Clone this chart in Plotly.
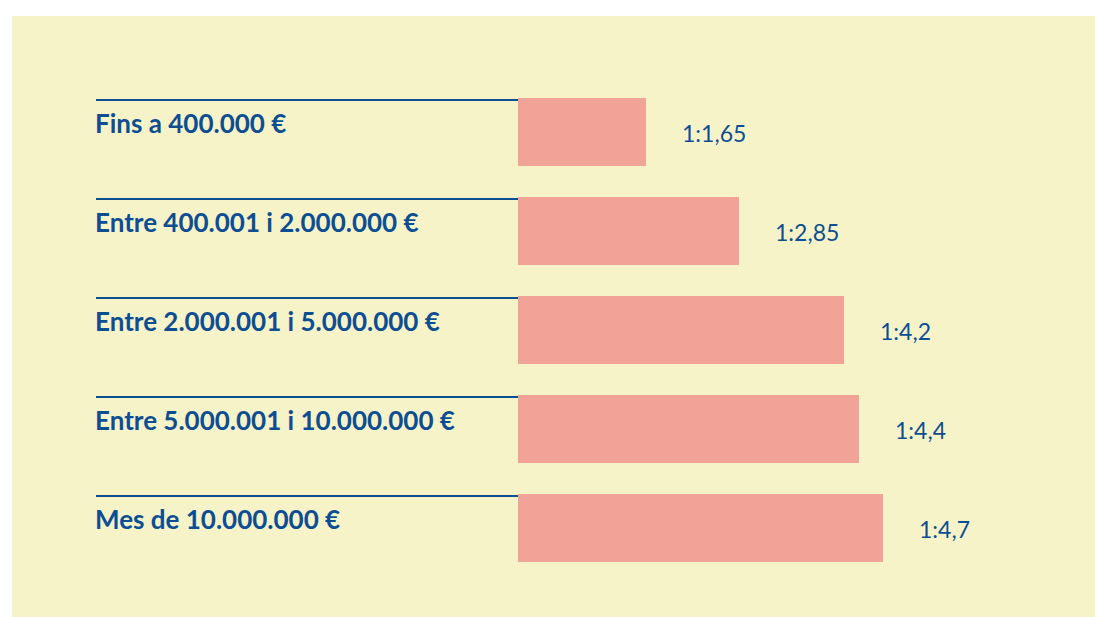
import plotly.graph_objects as go

# Turnover bands and their ratio values
categories = [
    "Fins a 400.000 €",
    "Entre 400.001 i 2.000.000 €",
    "Entre 2.000.001 i 5.000.000 €",
    "Entre 5.000.001 i 10.000.000 €",
    "Mes de 10.000.000 €",
]
ratios = [1.65, 2.85, 4.2, 4.4, 4.7]
ratio_labels = ["1:1,65", "1:2,85", "1:4,2", "1:4,4", "1:4,7"]

BLUE = "#0d4e93"
BAR = "#f0a396"
PANEL = "#f6f3c9"
FONT = "Lato"

W, H = 1095, 617
PX_PER_UNIT = 77.6      # horizontal scale of the bars
X0_PX = 518             # pixel where the bars start
ROW_PITCH = 99          # pixels between rows
FIRST_ROW_PX = 132      # vertical centre of the first bar
BAR_WIDTH = 68 / ROW_PITCH

x_range = [-X0_PX / PX_PER_UNIT, (W - X0_PX) / PX_PER_UNIT]
y_range = [(H - FIRST_ROW_PX) / ROW_PITCH, -FIRST_ROW_PX / ROW_PITCH]
label_x = -(X0_PX - 96) / PX_PER_UNIT

fig = go.Figure(
    go.Bar(
        x=ratios,
        y=list(range(len(categories))),
        orientation="h",
        width=BAR_WIDTH,
        marker=dict(color=BAR, line=dict(width=0)),
        hoverinfo="skip",
    )
)

shapes = [
    dict(type="rect", xref="paper", yref="paper",
         x0=12 / W, x1=1, y0=0, y1=(H - 16) / H,
         fillcolor=PANEL, line=dict(width=0), layer="below"),
]
annotations = []
for i, (cat, val, txt) in enumerate(zip(categories, ratios, ratio_labels)):
    line_y = i - (FIRST_ROW_PX - 100) / ROW_PITCH
    shapes.append(dict(type="line", xref="x", yref="y",
                       x0=label_x, x1=0, y0=line_y, y1=line_y,
                       line=dict(color=BLUE, width=2)))
    annotations.append(dict(x=label_x, y=i, xref="x", yref="y",
                            text=f"<b>{cat}</b>", showarrow=False,
                            xanchor="left", yanchor="middle",
                            xshift=-3, yshift=9,
                            font=dict(family=FONT, size=26, color=BLUE)))
    annotations.append(dict(x=val, y=i, xref="x", yref="y",
                            text=txt, showarrow=False,
                            xanchor="left", yanchor="middle",
                            xshift=34, yshift=-1,
                            font=dict(family=FONT, size=23, color=BLUE)))

fig.update_layout(
    width=W, height=H,
    margin=dict(l=0, r=0, t=0, b=0),
    paper_bgcolor="white",
    plot_bgcolor="rgba(0,0,0,0)",
    showlegend=False,
    bargap=0,
    xaxis=dict(range=x_range, visible=False, fixedrange=True),
    yaxis=dict(range=y_range, visible=False, fixedrange=True),
    shapes=shapes,
    annotations=annotations,
)

fig.write_html("out.html")
